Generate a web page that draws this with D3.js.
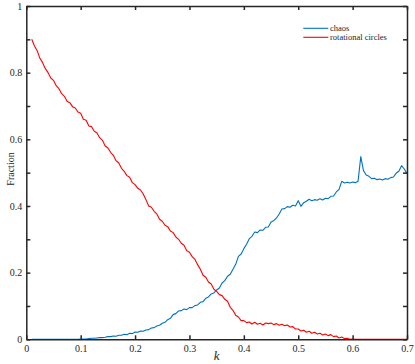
<!DOCTYPE html>
<html>
<head>
<meta charset="utf-8">
<script src="https://cdn.jsdelivr.net/npm/d3@7/dist/d3.min.js"></script>
<style>
  html, body { margin: 0; padding: 0; background: #fff; }
  svg { display: block; }
</style>
</head>
<body>
<svg id="chart" width="415" height="364"></svg>
<script>
// ---- data ----
const kValues = [
  0.010,0.015,0.020,0.025,0.030,0.035,0.040,0.045,0.050,0.055,
  0.060,0.065,0.070,0.075,0.080,0.085,0.090,0.095,0.100,0.105,
  0.110,0.115,0.120,0.125,0.130,0.135,0.140,0.145,0.150,0.155,
  0.160,0.165,0.170,0.175,0.180,0.185,0.190,0.195,0.200,0.205,
  0.210,0.215,0.220,0.225,0.230,0.235,0.240,0.245,0.250,0.255,
  0.260,0.265,0.270,0.275,0.280,0.285,0.290,0.295,0.300,0.305,
  0.310,0.315,0.320,0.325,0.330,0.335,0.340,0.345,0.350,0.355,
  0.360,0.365,0.370,0.375,0.380,0.385,0.390,0.395,0.400,0.405,
  0.410,0.415,0.420,0.425,0.430,0.435,0.440,0.445,0.450,0.455,
  0.460,0.465,0.470,0.475,0.480,0.485,0.490,0.495,0.500,0.505,
  0.510,0.515,0.520,0.525,0.530,0.535,0.540,0.545,0.550,0.555,
  0.560,0.565,0.570,0.575,0.580,0.585,0.590,0.595,0.600,0.605,
  0.610,0.615,0.620,0.625,0.630,0.635,0.640,0.645,0.650,0.655,
  0.660,0.665,0.670,0.675,0.680,0.685,0.690,0.695,0.700
];
const chaos = [
  0.000,0.000,0.000,0.000,0.000,0.000,0.000,0.000,0.000,0.000,
  0.000,0.000,0.000,0.000,0.000,0.000,0.000,0.000,0.001,0.001,
  0.001,0.002,0.003,0.003,0.004,0.005,0.005,0.006,0.008,0.008,
  0.010,0.009,0.012,0.012,0.015,0.014,0.018,0.017,0.022,0.021,
  0.025,0.024,0.028,0.029,0.034,0.035,0.040,0.042,0.048,0.051,
  0.059,0.063,0.074,0.077,0.085,0.086,0.091,0.089,0.095,0.095,
  0.101,0.103,0.111,0.113,0.123,0.127,0.136,0.139,0.148,0.154,
  0.169,0.176,0.189,0.195,0.210,0.225,0.249,0.256,0.272,0.285,
  0.302,0.309,0.322,0.320,0.328,0.327,0.336,0.337,0.352,0.356,
  0.364,0.376,0.391,0.392,0.398,0.396,0.402,0.400,0.416,0.399,
  0.410,0.414,0.420,0.416,0.419,0.417,0.422,0.418,0.423,0.422,
  0.429,0.430,0.442,0.450,0.474,0.469,0.471,0.469,0.472,0.470,
  0.474,0.548,0.506,0.493,0.489,0.482,0.483,0.479,0.481,0.478,
  0.482,0.480,0.485,0.487,0.498,0.504,0.521,0.511,0.497
];
const rotationalCircles = [
  0.900,0.880,0.866,0.843,0.830,0.812,0.800,0.784,0.777,0.761,
  0.752,0.737,0.729,0.714,0.710,0.698,0.694,0.682,0.678,0.660,
  0.657,0.640,0.638,0.624,0.619,0.605,0.597,0.580,0.574,0.561,
  0.552,0.536,0.529,0.513,0.504,0.491,0.486,0.470,0.464,0.453,
  0.448,0.436,0.419,0.400,0.396,0.384,0.376,0.360,0.354,0.342,
  0.338,0.325,0.320,0.307,0.300,0.288,0.282,0.266,0.261,0.248,
  0.240,0.224,0.210,0.192,0.186,0.172,0.166,0.150,0.144,0.134,
  0.131,0.120,0.114,0.096,0.087,0.072,0.067,0.056,0.056,0.050,
  0.052,0.046,0.051,0.045,0.048,0.043,0.049,0.047,0.049,0.044,
  0.047,0.042,0.045,0.041,0.043,0.037,0.038,0.031,0.031,0.025,
  0.027,0.021,0.024,0.018,0.021,0.016,0.018,0.013,0.016,0.011,
  0.014,0.008,0.010,0.004,0.007,0.002,0.003,0.000,0.001,0.000,
  0.000,0.000,0.000,0.000,0.000,0.000,0.000,0.000,0.000,0.000,
  0.000,0.000,0.000,0.000,0.000,0.000,0.000,0.000,0.000
];
const seriesNames = ["chaos", "rotational circles"];
const seriesColors = ["#0072BD", "#FF0000"];
const xTicks = [0, 0.1, 0.2, 0.3, 0.4, 0.5, 0.6, 0.7];
const yTicks = [0, 0.1, 0.2, 0.3, 0.4, 0.5, 0.6, 0.7, 0.8, 0.9, 1];
const yTickLabels = ["0", "", "0.2", "", "0.4", "", "0.6", "", "0.8", "", "1"];
const xLabel = "k";
const yLabel = "Fraction";

(function () {
// ---- layout ----
const svg = d3.select("#chart");
const mLeft = 26.3, mRight = 407, mTop = 6, mBottom = 339.3;
const x = d3.scaleLinear().domain([0, 0.7]).range([mLeft, mRight]);
const y = d3.scaleLinear().domain([0, 1]).range([mBottom, mTop]);
const axisColor = "#262626";
const font = "'Liberation Serif', 'Times New Roman', serif";
const tickLen = 4;

// data lines
const series = [chaos, rotationalCircles];
const line = d3.line().x(d => x(d[0])).y(d => y(d[1]));
series.forEach((vals, i) => {
  svg.append("path")
    .datum(kValues.map((k, j) => [k, vals[j]]))
    .attr("fill", "none")
    .attr("stroke", seriesColors[i])
    .attr("stroke-width", 1.1)
    .attr("stroke-linejoin", "round")
    .attr("d", line);
});

// axes
const fmtX = d => (d === 0 ? "0" : d3.format(".1f")(d));
const gB = svg.append("g").attr("transform", `translate(0,${mBottom})`)
  .call(d3.axisBottom(x).tickValues(xTicks).tickSizeInner(-tickLen).tickSizeOuter(0).tickPadding(6).tickFormat(fmtX));
const gT = svg.append("g").attr("transform", `translate(0,${mTop})`)
  .call(d3.axisTop(x).tickValues(xTicks).tickSizeInner(-tickLen).tickSizeOuter(0).tickFormat(""));
const gL = svg.append("g").attr("transform", `translate(${mLeft},0)`)
  .call(d3.axisLeft(y).tickValues(yTicks).tickSizeInner(-tickLen).tickSizeOuter(0).tickPadding(4)
    .tickFormat((d, i) => yTickLabels[i]));
const gR = svg.append("g").attr("transform", `translate(${mRight},0)`)
  .call(d3.axisRight(y).tickValues(yTicks).tickSizeInner(-tickLen).tickSizeOuter(0).tickFormat(""));

[gB, gT, gL, gR].forEach(g => {
  g.select(".domain").attr("stroke", axisColor).attr("stroke-width", 1.5);
  g.selectAll(".tick line").attr("stroke", axisColor).attr("stroke-width", 1.5);
  g.selectAll(".tick text").attr("fill", axisColor)
    .style("font-family", font).style("font-size", "10px");
});

// axis labels
svg.append("text")
  .attr("x", (mLeft + mRight) / 2).attr("y", 360)
  .attr("text-anchor", "middle")
  .style("font-family", font).style("font-size", "13px").style("font-style", "italic")
  .attr("fill", axisColor)
  .text(xLabel);
svg.append("text")
  .attr("transform", `translate(14,169) rotate(-90)`)
  .attr("text-anchor", "middle")
  .style("font-family", font).style("font-size", "10px")
  .attr("fill", axisColor)
  .text(yLabel);

// legend
const legY = [28.3, 37.3];
seriesNames.forEach((name, i) => {
  svg.append("line")
    .attr("x1", 303.3).attr("x2", 328.3)
    .attr("y1", legY[i]).attr("y2", legY[i])
    .attr("stroke", seriesColors[i]).attr("stroke-width", 1.1);
  svg.append("text")
    .attr("x", 330).attr("y", legY[i]).attr("dy", "0.33em")
    .style("font-family", font).style("font-size", "8.5px")
    .attr("fill", axisColor)
    .text(name);
});
})();
</script>
</body>
</html>
